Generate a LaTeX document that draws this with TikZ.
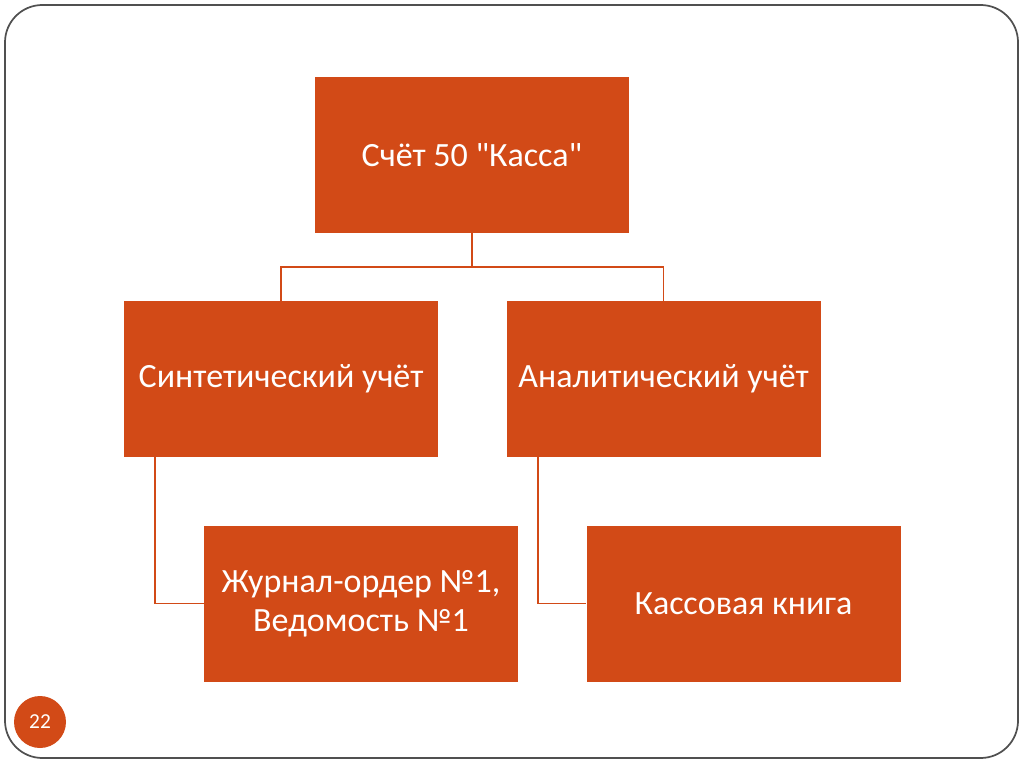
\documentclass[tikz,border=0pt]{standalone}
\usepackage{fontspec}
\setmainfont{Carlito}[Ligatures=TeXOff]
\usetikzlibrary{positioning}
\definecolor{kassared}{HTML}{D24A17}
\definecolor{framegray}{HTML}{505050}

\begin{document}
\begin{tikzpicture}[
                x=0.75pt, y=-0.75pt,
                box/.style={fill=kassared, text=white, minimum width=235.5pt, minimum height=117pt, inner sep=0pt, align=center, font=\fontsize{25.5}{29.5}\selectfont},
                link/.style={draw=kassared, line width=1.3pt},
            ]

                % Page
                \useasboundingbox (0,0) rectangle (1024,767);
                \draw[framegray, line width=1.3pt, rounded corners=28pt] (5,5) rectangle (1018,758);

                % Boxes
                \node[box] (schet) at (472,155) {Счёт 50 "Касса"};
                \node[box] (synth) at (281,379) {Синтетический учёт};
                \node[box, right=51pt of synth] (anal) {Аналитический учёт};
                \node[box, below=51pt of synth, xshift=60pt] (journ) {Журнал-ордер №1,\\Ведомость №1};
                \node[box, right=51pt of journ] (kniga) {Кассовая книга};

                % Page number
                \node[circle, fill=kassared, text=white, minimum size=39pt, inner sep=0pt, font=\fontsize{16}{18}\selectfont] (pgnum) at (40,722) {22};

                % Connect boxes
                \draw[link] (schet.south) -- ++(0,34) -| (synth.north);
                \draw[link] (schet.south) -- ++(0,34) -| (anal.north);
                \draw[link] ([xshift=23.25pt]synth.south west) |- (journ.west);
                \draw[link] ([xshift=24pt]anal.south west) |- (kniga.west);
            \end{tikzpicture}
\end{document}
